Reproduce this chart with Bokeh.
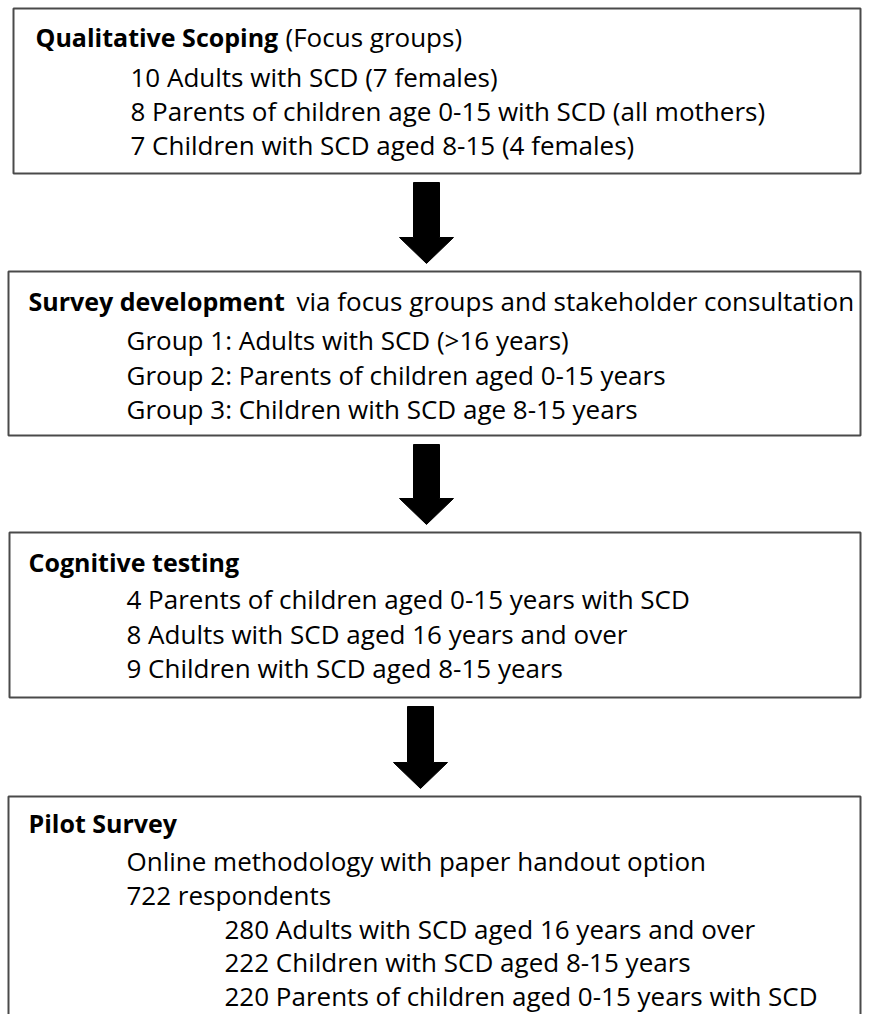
from bokeh.plotting import figure
from bokeh.models import Range1d
from bokeh.core.properties import value
from bokeh.embed import file_html
from bokeh.resources import INLINE

# ---------------- content ----------------
stage_titles = ["Qualitative Scoping", "Survey development", "Cognitive testing", "Pilot Survey"]
stage_title_notes = ["(Focus groups)", "via focus groups and stakeholder consultation", "", ""]
stage1_lines = ["10 Adults with SCD (7 females)",
                "8 Parents of children age 0-15 with SCD (all mothers)",
                "7 Children with SCD aged 8-15 (4 females)"]
stage2_lines = ["Group 1: Adults with SCD (>16 years)",
                "Group 2: Parents of children aged 0-15 years",
                "Group 3: Children with SCD age 8-15 years"]
stage3_lines = ["4 Parents of children aged 0-15 years with SCD",
                "8 Adults with SCD aged 16 years and over",
                "9 Children with SCD aged 8-15 years"]
stage4_lines = ["Online methodology with paper handout option",
                "722 respondents"]
stage4_sublines = ["280 Adults with SCD aged 16 years and over",
                   "222 Children with SCD aged 8-15 years",
                   "220 Parents of children aged 0-15 years with SCD"]

# ---------------- layout (pixel-like coordinates, y downward) ----------------
W, H = 862, 1014
box_left = [13, 8, 9, 8]
box_right = [860, 860, 860, 860]
box_top = [8, 271, 532, 796]
box_bottom = [173, 435, 697, 1060]
title_x = [35, 28, 28, 28]
title_y = [36, 300, 561, 822]
note_x = [285, 296, None, None]
indent_x = [130, 126, 126, 126]
sub_x = 224
line_y = [[76, 110, 144], [339, 374, 408], [598, 633, 667], [860, 894]]
sub_y = [928, 961, 995]
arrow_cx = [426, 426, 420]
shaft_half, head_half, head_len = 13, 27, 26
arrow_gap_top, arrow_gap_bottom = 9, 8

FONT = "Open Sans"
FS = "26px"
FS_BOLD = "25px"
BORDER = "#4a4a4a"

p = figure(width=W, height=H, x_range=Range1d(0, W), y_range=Range1d(H, 0),
           output_backend="svg", toolbar_location=None, min_border=0,
           background_fill_color="white", border_fill_color="white")
p.axis.visible = False
p.grid.visible = False
p.outline_line_color = None

# boxes
p.quad(left=box_left, right=box_right, top=box_top, bottom=box_bottom,
       fill_color="white", line_color=BORDER, line_width=2)

# arrows between boxes
xs, ys = [], []
for i, cx in enumerate(arrow_cx):
    t = box_bottom[i] + arrow_gap_top
    tip = box_top[i + 1] - arrow_gap_bottom
    hb = tip - head_len
    xs.append([cx - shaft_half, cx + shaft_half, cx + shaft_half, cx + head_half, cx,
               cx - head_half, cx - shaft_half])
    ys.append([t, t, hb, hb, tip, hb, hb])
p.patches(xs=xs, ys=ys, fill_color="black", line_color="black", line_width=1)

# titles (bold) and notes
p.text(x=title_x, y=title_y, text=stage_titles, text_font=value(FONT),
       text_font_size=FS_BOLD, text_font_style="bold", text_baseline="middle",
       text_color="black")
nx = [note_x[i] for i in range(4) if stage_title_notes[i]]
ny = [title_y[i] for i in range(4) if stage_title_notes[i]]
nt = [t for t in stage_title_notes if t]
p.text(x=nx, y=ny, text=nt, text_font=value(FONT), text_font_size=FS,
       text_baseline="middle", text_color="black")

# body lines
all_lines = [stage1_lines, stage2_lines, stage3_lines, stage4_lines]
bx, by, bt = [], [], []
for i, lines in enumerate(all_lines):
    for j, s in enumerate(lines):
        bx.append(indent_x[i]); by.append(line_y[i][j]); bt.append(s)
for j, s in enumerate(stage4_sublines):
    bx.append(sub_x); by.append(sub_y[j]); bt.append(s)
p.text(x=bx, y=by, text=bt, text_font=value(FONT), text_font_size=FS,
       text_baseline="middle", text_color="black")

open("out.html", "w").write(file_html(p, INLINE))
